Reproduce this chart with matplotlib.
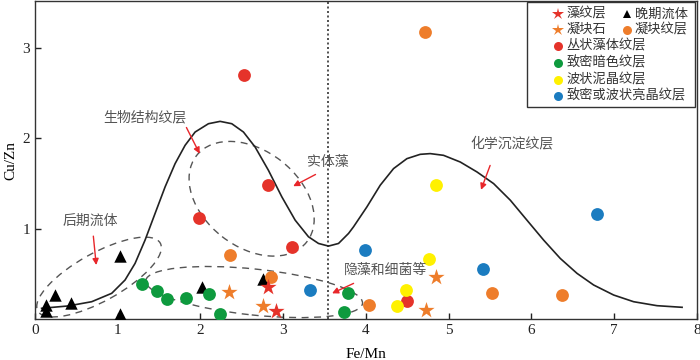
import matplotlib.pyplot as plt
import matplotlib.transforms as mtransforms
from matplotlib.patches import Ellipse, Rectangle

plt.rcParams['font.family'] = ['Liberation Serif', 'Noto Sans CJK SC']

# data
algal_x = [2.81, 2.91]                      # 藻纹层 (red star)
algal_y = [0.35, 0.09]
thrombolite_x = [2.34, 2.75, 4.84, 4.72]    # 凝块石 (orange star)
thrombolite_y = [0.30, 0.14, 0.46, 0.10]
late_x = [0.13, 0.13, 0.24, 0.44, 1.03, 1.03, 2.02, 2.75]   # 晚期流体
late_y = [0.15, 0.09, 0.26, 0.18, 0.70, 0.06, 0.35, 0.44]
clot_x = [2.36, 2.85, 4.04, 5.52, 6.37, 4.71]               # 凝块纹层
clot_y = [0.71, 0.47, 0.15, 0.29, 0.27, 3.18]
bush_x = [2.53, 2.82, 1.98, 3.10, 4.49]                     # 丛状藻体纹层
bush_y = [2.70, 1.48, 1.12, 0.80, 0.20]
dark_x = [1.29, 1.47, 1.60, 1.83, 2.10, 2.24, 3.78, 3.73]   # 致密暗色纹层
dark_y = [0.39, 0.31, 0.22, 0.23, 0.28, 0.06, 0.29, 0.08]
micrite_x = [4.85, 4.76, 4.48, 4.38]                        # 波状泥晶纹层
micrite_y = [1.48, 0.66, 0.32, 0.14]
sparite_x = [3.32, 3.99, 5.41, 6.79]                        # 致密或波状亮晶纹层
sparite_y = [0.32, 0.76, 0.55, 1.16]

# boundary curve
curve_x = [0.08, 0.40, 0.685, 0.927, 1.088, 1.209, 1.33, 1.451, 1.572, 1.693,
           1.814, 1.935, 2.096, 2.237, 2.378, 2.519, 2.66, 2.821, 2.983, 3.144,
           3.305, 3.426, 3.547, 3.668, 3.789, 3.849, 4.011, 4.172, 4.333, 4.494,
           4.655, 4.776, 4.937, 5.139, 5.341, 5.542, 5.744, 5.945, 6.147, 6.348,
           6.55, 6.751, 6.993, 7.234, 7.517, 7.82]
curve_y = [0.118, 0.144, 0.191, 0.284, 0.431, 0.615, 0.873, 1.168, 1.462, 1.72,
           1.923, 2.07, 2.162, 2.188, 2.162, 2.07, 1.904, 1.646, 1.352, 1.094,
           0.91, 0.836, 0.807, 0.836, 0.947, 1.02, 1.241, 1.481, 1.665, 1.775,
           1.823, 1.831, 1.812, 1.738, 1.628, 1.499, 1.315, 1.094, 0.873, 0.670,
           0.505, 0.376, 0.265, 0.191, 0.147, 0.129]

divider_x = 3.54

RED = '#e5332a'
ORANGE = '#ee7d2b'
GREEN = '#0e9a3e'
YELLOW = '#fff100'
BLUE = '#1b7cc0'
LABEL_GREY = '#555555'

fig = plt.figure(figsize=(7, 3.6), dpi=100)
ax = fig.add_axes([0.05, 0.114, 0.9457, 0.883])

ax.plot(curve_x, curve_y, color='#222222', lw=1.2, zorder=2)
ax.axvline(divider_x, color='#333333', lw=1.2, ls=(0, (1.2, 1.5)), zorder=1)


def dashed_ellipse(cx, cy, w, h, angle):
    # sizes in inches, centred on a data point
    trans = fig.dpi_scale_trans + mtransforms.ScaledTranslation(cx, cy, ax.transData)
    e = Ellipse((0, 0), w, h, angle=angle, transform=trans, fill=False,
                edgecolor='#555555', lw=1.0, ls=(0, (5, 4)), zorder=1)
    ax.add_patch(e)


dashed_ellipse(0.774, 0.464, 1.40, 0.48, 29)
dashed_ellipse(2.618, 1.331, 1.40, 0.96, -38)
dashed_ellipse(2.648, 0.298, 2.18, 0.46, -6)

ms = 85
ax.scatter(late_x, late_y, marker='^', s=80, color='black', zorder=4, linewidths=0)
ax.scatter(bush_x, bush_y, marker='o', s=ms, color=RED, zorder=4, linewidths=0)
ax.scatter(dark_x, dark_y, marker='o', s=ms, color=GREEN, zorder=4, linewidths=0)
ax.scatter(micrite_x, micrite_y, marker='o', s=ms, color=YELLOW, zorder=4, linewidths=0)
ax.scatter(sparite_x, sparite_y, marker='o', s=ms, color=BLUE, zorder=4, linewidths=0)
ax.scatter(clot_x, clot_y, marker='o', s=ms, color=ORANGE, zorder=4, linewidths=0)
ax.scatter(thrombolite_x, thrombolite_y, marker='*', s=150, color=ORANGE, zorder=5, linewidths=0)
ax.scatter(algal_x, algal_y, marker='*', s=150, color=RED, zorder=5, linewidths=0)

# zone labels with red arrows
cjk = ['Noto Sans CJK SC', 'DejaVu Sans']
labels = [
    ('生物结构纹层', (1.33, 2.23), (1.83, 2.12), (1.99, 1.83)),
    ('实体藻', (3.54, 1.74), (3.39, 1.60), (3.12, 1.47)),
    ('后期流体', (0.665, 1.09), (0.705, 0.917), (0.74, 0.597)),
    ('化学沉淀纹层', (5.76, 1.945), (5.50, 1.70), (5.39, 1.43)),
    ('隐藻和细菌等', (4.24, 0.54), (3.85, 0.394), (3.59, 0.284)),
]
for txt, pos, a0, a1 in labels:
    ax.text(pos[0], pos[1], txt, family=cjk, fontsize=10, color=LABEL_GREY,
            ha='center', va='center', zorder=6)
    ax.annotate('', xy=a1, xytext=a0,
                arrowprops=dict(arrowstyle='-|>', color='#e8262a', lw=1.0,
                                mutation_scale=9, shrinkA=0, shrinkB=0), zorder=6)

ax.set_xlim(0, 8)
ax.set_ylim(0, 3.52)
ax.set_xticks(range(0, 9))
ax.set_yticks([1, 2, 3])
ax.tick_params(direction='in', length=4, width=1, labelsize=11, colors='#222222')
for s in ax.spines.values():
    s.set_linewidth(1.0)
    s.set_color('#333333')
ax.set_xlabel('Fe/Mn', fontsize=11, labelpad=8)
ax.set_ylabel('Cu/Zn', fontsize=11, labelpad=4)

# legend box drawn by hand (mixed 2-column / 1-column rows)
ax.add_patch(Rectangle((0.743, 0.668), 0.254, 0.33, transform=ax.transAxes,
                       fill=False, edgecolor='#333333', lw=1.0, zorder=7))
rows = [0.960, 0.910, 0.860, 0.806, 0.752, 0.701]
mx1, tx1, mx2, tx2 = 0.790, 0.803, 0.894, 0.906
entries = [
    ('*', RED, 9, '藻纹层', mx1, tx1, rows[0]),
    ('^', 'black', 6, '晚期流体', mx2, tx2, rows[0]),
    ('*', ORANGE, 9, '凝块石', mx1, tx1, rows[1]),
    ('o', ORANGE, 6.5, '凝块纹层', mx2, tx2, rows[1]),
    ('o', RED, 6.5, '丛状藻体纹层', mx1, tx1, rows[2]),
    ('o', GREEN, 6.5, '致密暗色纹层', mx1, tx1, rows[3]),
    ('o', YELLOW, 6.5, '波状泥晶纹层', mx1, tx1, rows[4]),
    ('o', BLUE, 6.5, '致密或波状亮晶纹层', mx1, tx1, rows[5]),
]
for mk, col, size, txt, mx, tx, y in entries:
    ax.plot([mx], [y], marker=mk, color=col, ms=size, mew=0, ls='none',
            transform=ax.transAxes, zorder=8, clip_on=False)
    ax.text(tx, y, txt, transform=ax.transAxes, family=cjk, fontsize=9.5,
            color='#333333', ha='left', va='center', zorder=8)

fig.savefig('out.png', dpi=100)
